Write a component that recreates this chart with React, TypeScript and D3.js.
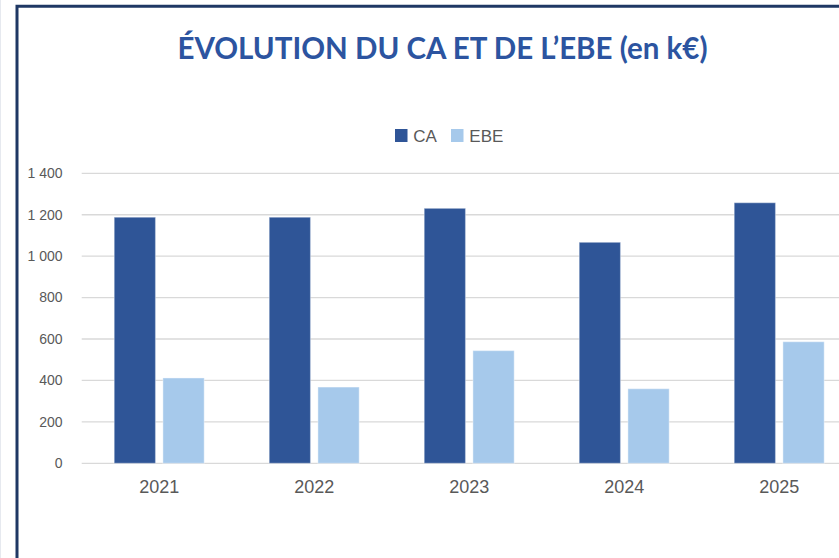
import React, { useEffect, useRef } from "react";
import * as d3 from "d3";

const years = ["2021", "2022", "2023", "2024", "2025"];
const seriesNames = ["CA", "EBE"];
const caValues = [1188, 1188, 1231, 1067, 1258];
const ebeValues = [412, 368, 544, 360, 587];
const yTicks = [0, 200, 400, 600, 800, 1000, 1200, 1400];
const yTickLabels = ["0", "200", "400", "600", "800", "1 000", "1 200", "1 400"];
const colors = ["#2f5597", "#a6c9eb"];

const App = () => {
  const svgRef = useRef<SVGSVGElement>(null);

  useEffect(() => {
    const width = 839;
    const height = 558;
    const svg = d3.select(svgRef.current);
    svg.selectAll("*").remove();

    svg.attr("width", width).attr("height", height);

    svg.append("rect").attr("width", width).attr("height", height).attr("fill", "#fff");

    // faint page edge + dark frame
    svg.append("line")
      .attr("x1", 0.5).attr("x2", 0.5).attr("y1", 0).attr("y2", height)
      .attr("stroke", "#e6e9ef").attr("stroke-width", 1);
    svg.append("path")
      .attr("d", `M17,${height + 5} L17,6.3 L${width + 5},6.3`)
      .attr("fill", "none")
      .attr("stroke", "#1f3864")
      .attr("stroke-width", 3);

    const x = d3.scaleBand().domain(years).range([81.7, 856.7]).padding(0);
    const xInner = d3.scaleBand().domain(seriesNames).range([32.5, 122.5]).paddingInner(0.152);
    const y = d3.scaleLinear().domain([0, 1400]).range([463.3, 173.3]);

    // gridlines
    svg.append("g")
      .selectAll("line")
      .data(yTicks)
      .join("line")
      .attr("x1", 81.7)
      .attr("x2", width)
      .attr("y1", (d) => y(d))
      .attr("y2", (d) => y(d))
      .attr("stroke", "#d9d9d9")
      .attr("stroke-width", 1.3);

    // y labels
    svg.append("g")
      .selectAll("text")
      .data(yTicks)
      .join("text")
      .attr("x", 62.5)
      .attr("y", (d) => y(d))
      .attr("dy", "0.35em")
      .attr("text-anchor", "end")
      .attr("font-family", "'Liberation Sans', Arial, sans-serif")
      .attr("font-size", 14)
      .attr("fill", "#595959")
      .text((d, i) => yTickLabels[i]);

    // bars
    const data = years.flatMap((yr, i) => [
      { year: yr, key: "CA", value: caValues[i], color: colors[0] },
      { year: yr, key: "EBE", value: ebeValues[i], color: colors[1] },
    ]);

    svg.append("g")
      .selectAll("rect")
      .data(data)
      .join("rect")
      .attr("x", (d) => (x(d.year) as number) + (xInner(d.key) as number))
      .attr("width", xInner.bandwidth())
      .attr("y", (d) => y(d.value))
      .attr("height", (d) => y(0) - y(d.value))
      .attr("fill", (d) => d.color)
      .attr("stroke", "#ffffff")
      .attr("stroke-opacity", 0.35)
      .attr("stroke-width", 1.2);

    // x labels
    svg.append("g")
      .selectAll("text")
      .data(years)
      .join("text")
      .attr("x", (d) => (x(d) as number) + x.bandwidth() / 2)
      .attr("y", 493.3)
      .attr("text-anchor", "middle")
      .attr("font-family", "'Liberation Sans', Arial, sans-serif")
      .attr("font-size", 18)
      .attr("fill", "#595959")
      .text((d) => d);

    // legend
    const legendX = [395, 451];
    const legend = svg.append("g")
      .selectAll("g")
      .data(seriesNames)
      .join("g")
      .attr("transform", (d, i) => `translate(${legendX[i]},129)`);
    legend.append("rect")
      .attr("width", 12.5)
      .attr("height", 13)
      .attr("fill", (d, i) => colors[i]);
    legend.append("text")
      .attr("x", 18.3)
      .attr("y", 12.5)
      .attr("font-family", "'Liberation Sans', Arial, sans-serif")
      .attr("font-size", 17)
      .attr("fill", "#595959")
      .text((d) => d);

    // title
    svg.append("text")
      .attr("x", 442.5)
      .attr("y", 59)
      .attr("text-anchor", "middle")
      .attr("font-family", "Lato, 'Open Sans', sans-serif")
      .attr("font-weight", "bold")
      .attr("font-size", 30)
      .attr("textLength", 530)
      .attr("lengthAdjust", "spacingAndGlyphs")
      .attr("fill", "#2c54a0")
      .text("ÉVOLUTION DU CA ET DE L’EBE (en k€)");
  }, []);

  return (
    <svg
      ref={svgRef}
      style={{ position: "absolute", left: 0, top: 0, display: "block" }}
    ></svg>
  );
};

export default App;
